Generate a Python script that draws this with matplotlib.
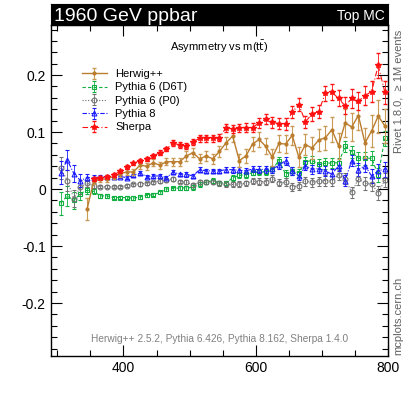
import numpy as np
import matplotlib
matplotlib.use("Agg")
import matplotlib.pyplot as plt
from matplotlib.ticker import MultipleLocator

plt.rcParams['font.family'] = ['Liberation Sans', 'DejaVu Sans']

# bin centres, 10 GeV bins from 300 to 800
mass = np.arange(305, 800, 10)

# Herwig++ starts at 345 GeV
herwig_mass = mass[4:]
herwig = [-0.035, 0.014, 0.017, 0.018, 0.022, 0.027, 0.030, 0.030, 0.042, 0.040,
          0.046, 0.042, 0.048, 0.048, 0.048, 0.058, 0.064, 0.053, 0.058, 0.053,
          0.066, 0.081, 0.093, 0.050, 0.058, 0.079, 0.087, 0.075, 0.056, 0.080,
          0.079, 0.094, 0.056, 0.078, 0.072, 0.086, 0.090, 0.104, 0.076, 0.116,
          0.109, 0.129, 0.081, 0.102, 0.128, 0.111]
herwig_err = [0.020, 0.006, 0.005, 0.005, 0.005, 0.005, 0.005, 0.005, 0.006, 0.006,
              0.006, 0.006, 0.006, 0.007, 0.007, 0.008, 0.008, 0.008, 0.009, 0.009,
              0.010, 0.010, 0.011, 0.012, 0.012, 0.013, 0.013, 0.014, 0.015, 0.015,
              0.016, 0.017, 0.018, 0.018, 0.019, 0.020, 0.021, 0.022, 0.023, 0.024,
              0.025, 0.026, 0.027, 0.028, 0.029, 0.030]

pythia6_d6t = [-0.025, -0.012, -0.020, -0.008, -0.002, -0.004, -0.012, -0.012, -0.015, -0.015,
               -0.015, -0.016, -0.014, -0.011, -0.010, -0.006, 0.000, 0.001, 0.002, 0.002,
               0.003, 0.008, 0.012, 0.015, 0.011, 0.010, 0.020, 0.024, 0.025, 0.029,
               0.030, 0.030, 0.035, 0.050, 0.026, 0.032, 0.029, 0.048, 0.050, 0.044,
               0.045, 0.046, 0.046, 0.075, 0.065, 0.054, 0.054, 0.054, 0.025, 0.089]
pythia6_p0 = [0.037, 0.015, -0.017, 0.004, 0.010, 0.006, 0.004, 0.004, 0.004, 0.004,
              0.006, 0.008, 0.009, 0.010, 0.012, 0.014, 0.016, 0.018, 0.013, 0.012,
              0.007, 0.012, 0.012, 0.013, 0.010, 0.008, 0.008, 0.009, 0.010, 0.014,
              0.013, 0.013, 0.018, 0.011, 0.012, 0.004, 0.006, 0.014, 0.012, 0.014,
              0.015, 0.014, 0.025, 0.018, -0.006, 0.018, 0.010, 0.009, -0.007, 0.016]
pythia8 = [0.029, 0.051, 0.027, 0.015, 0.020, 0.020, 0.021, 0.021, 0.021, 0.022,
           0.020, 0.024, 0.028, 0.022, 0.023, 0.023, 0.020, 0.030, 0.026, 0.026,
           0.023, 0.034, 0.032, 0.032, 0.032, 0.034, 0.034, 0.033, 0.032, 0.035,
           0.034, 0.035, 0.035, 0.042, 0.050, 0.032, 0.023, 0.041, 0.035, 0.036,
           0.032, 0.026, 0.041, 0.015, 0.050, 0.034, 0.041, 0.023, 0.032, 0.035]
pythia_err = [0.020, 0.018, 0.015, 0.012, 0.006, 0.004, 0.003, 0.003, 0.003, 0.003,
              0.003, 0.003, 0.003, 0.003, 0.003, 0.003, 0.003, 0.003, 0.003, 0.004,
              0.004, 0.004, 0.004, 0.004, 0.004, 0.004, 0.005, 0.005, 0.005, 0.005,
              0.006, 0.006, 0.006, 0.006, 0.007, 0.007, 0.007, 0.008, 0.008, 0.008,
              0.009, 0.009, 0.009, 0.010, 0.010, 0.011, 0.011, 0.012, 0.012, 0.013]

# Sherpa starts at 355 GeV
sherpa_mass = mass[5:]
sherpa = [0.018, 0.020, 0.022, 0.025, 0.031, 0.039, 0.045, 0.050, 0.053, 0.058,
          0.064, 0.070, 0.081, 0.077, 0.076, 0.083, 0.089, 0.089, 0.089, 0.090,
          0.108, 0.105, 0.108, 0.108, 0.108, 0.116, 0.123, 0.117, 0.115, 0.114,
          0.135, 0.148, 0.118, 0.132, 0.136, 0.168, 0.170, 0.159, 0.146, 0.159,
          0.154, 0.164, 0.171, 0.217, 0.170]
sherpa_err = [0.003, 0.003, 0.003, 0.003, 0.003, 0.003, 0.003, 0.003, 0.004, 0.004,
              0.004, 0.004, 0.005, 0.005, 0.005, 0.005, 0.006, 0.006, 0.006, 0.006,
              0.007, 0.007, 0.007, 0.008, 0.008, 0.008, 0.009, 0.009, 0.010, 0.010,
              0.010, 0.011, 0.011, 0.012, 0.012, 0.013, 0.014, 0.014, 0.015, 0.016,
              0.016, 0.017, 0.018, 0.022, 0.020]

labels = ['Herwig++', 'Pythia 6 (D6T)', 'Pythia 6 (P0)', 'Pythia 8', 'Sherpa']

fig = plt.figure(figsize=(4.09, 3.96), dpi=100)
ax = fig.add_axes([0.124, 0.101, 0.825, 0.836])

ax.errorbar(herwig_mass, herwig, yerr=herwig_err, color='#bb7d2e', ls='-', lw=1.0,
            marker='o', ms=2, mfc='#bb7d2e', capsize=1.5, elinewidth=0.8, ecolor='#c99a55',
            label=labels[0], zorder=3)
ax.errorbar(mass, pythia6_d6t, yerr=pythia_err, color='#10b040', ls=(0, (3, 2)), lw=0.8,
            marker='s', ms=3.5, mfc='none', mew=0.8, capsize=1.5, elinewidth=0.6,
            label=labels[1], zorder=2)
ax.errorbar(mass, pythia6_p0, yerr=pythia_err, color='#707070', ls=(0, (1, 1.5)), lw=0.8,
            marker='o', ms=3.5, mfc='none', mew=0.8, capsize=1.5, elinewidth=0.6,
            label=labels[2], zorder=2)
ax.errorbar(mass, pythia8, yerr=pythia_err, color='#1a1aff', ls=(0, (4, 1.5, 1, 1.5)), lw=0.8,
            marker='^', ms=3.5, mfc='none', mew=0.8, capsize=1.5, elinewidth=0.6,
            label=labels[3], zorder=2)
ax.errorbar(sherpa_mass, sherpa, yerr=sherpa_err, color='#ff1010', ls=(0, (5, 2, 1, 2)),
            lw=0.8, marker='*', ms=4, capsize=1.5, elinewidth=0.6,
            label=labels[4], zorder=4)

ax.set_xlim(290, 800)
ax.set_ylim(-0.293, 0.288)
ax.xaxis.set_major_locator(MultipleLocator(200))
ax.xaxis.set_minor_locator(MultipleLocator(50))
ax.yaxis.set_major_locator(MultipleLocator(0.1))
ax.yaxis.set_minor_locator(MultipleLocator(0.02))
ax.tick_params(which='both', direction='in', top=True, right=True, labelsize=10)
ax.tick_params(which='major', length=8, width=0.8)
ax.tick_params(which='minor', length=4, width=0.8)
ax.set_yticks([-0.2, -0.1, 0, 0.1, 0.2])
ax.set_yticklabels(['-0.2', '-0.1', '0', '0.1', '0.2'])
ax.set_xticks([400, 600, 800])
for sp in ax.spines.values():
    sp.set_linewidth(1.0)

ax.text(0.5, 0.935, r'Asymmetry vs m(t$\bar{\mathrm{t}}$)', transform=ax.transAxes,
        ha='center', va='center', fontsize=8)
ax.text(0.5, 0.05, 'Herwig++ 2.5.2, Pythia 6.426, Pythia 8.162, Sherpa 1.4.0',
        transform=ax.transAxes, ha='center', va='center', fontsize=7.3, color='#808080')

leg = ax.legend(loc='upper left', bbox_to_anchor=(0.08, 0.88), frameon=False,
                fontsize=8, handlelength=2.2, handletextpad=0.8, labelspacing=0.3,
                borderaxespad=0)

# black title bar
bar = fig.add_axes([0.124, 0.937, 0.825, 0.053])
bar.set_facecolor('black')
bar.set_xticks([])
bar.set_yticks([])
bar.text(0.01, 0.42, '1960 GeV ppbar', color='white', fontsize=14, ha='left', va='center',
         transform=bar.transAxes)
bar.text(0.99, 0.42, 'Top MC', color='white', fontsize=10, ha='right', va='center',
         transform=bar.transAxes)

fig.text(0.975, 0.925, u'Rivet 1.8.0,  \u2265 1M events', rotation=90, ha='center', va='top',
         fontsize=8, color='#606060')
fig.text(0.975, 0.103, 'mcplots.cern.ch', rotation=90, ha='center', va='bottom',
         fontsize=8, color='#606060')

fig.savefig('out.png', dpi=100)
